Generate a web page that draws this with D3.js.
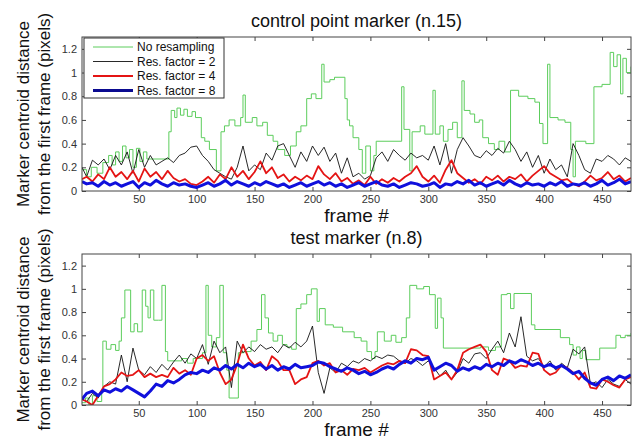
<!DOCTYPE html>
<html lang="en">
<head>
<meta charset="UTF-8">
<title>Marker centroid distance</title>
<style>
  body { margin: 0; background: #fff; }
  svg { display: block; font-family: "Liberation Sans", Arial, sans-serif; }
</style>
</head>
<body>
<div id="chart"></div>
<script src="https://d3js.org/d3.v7.min.js"></script>
<script>
// ---- data ----
var frames = [1,5,10,15,20,25,30,35,40,45, 50,55,60,65,70,75,80,85,90,95,
  100,105,110,115,120,125,130,135,140,145, 150,155,160,165,170,175,180,185,190,195,
  200,205,210,215,220,225,230,235,240,245, 250,255,260,265,270,275,280,285,290,295,
  300,305,310,315,320,325,330,335,340,345, 350,355,360,365,370,375,380,385,390,395,
  400,405,410,415,420,425,430,435,440,445, 450,455,460,465,470,475];

var xTicks = [50,100,150,200,250,300,350,400,450];
var yTicks = [0,0.2,0.4,0.6,0.8,1,1.2];
var yTickLabels = ["0","0.2","0.4","0.6","0.8","1","1.2"];
var seriesNames = ["No resampling","Res. factor = 2","Res. factor = 4","Res. factor = 8"];
var panelTitles = ["control point marker (n.15)","test marker (n.8)"];

// no resampling: [frame, value] steps
var topGreen = [[1,0.18],[5,0.12],[9,0.20],[14,0.15],[19,0.24],[24,0.30],[27,0.22],[30,0.33],[33,0.25],[36,0.38],
  [39,0.28],[42,0.35],[45,0.20],[48,0.36],[51,0.25],[54,0.33],[57,0.27],[76,0.50],[78,0.68],[81,0.62],
  [83,0.70],[86,0.64],[89,0.69],[92,0.63],[96,0.67],[99,0.62],[104,0.45],[107,0.42],[111,0.35],[117,0.17],
  [121,0.50],[124,0.55],[128,0.60],[133,0.55],[138,0.62],[140,0.81],[142,0.58],[148,0.62],[152,0.55],[157,0.58],
  [161,0.47],[166,0.42],[170,0.35],[176,0.30],[181,0.38],[186,0.50],[190,0.55],[195,0.78],[199,0.82],[203,0.78],
  [208,1.07],[210,0.92],[215,0.94],[219,0.96],[228,0.78],[230,0.60],[232,0.55],[235,0.45],[240,0.35],[243,0.15],
  [246,0.38],[250,0.17],[253,0.30],[255,0.42],[277,0.88],[279,0.52],[284,0.17],[286,0.50],[293,0.55],[297,0.48],
  [304,0.85],[306,0.48],[310,0.55],[313,0.42],[317,0.52],[321,0.58],[325,0.45],[329,0.93],[331,0.68],[336,0.65],
  [340,0.58],[344,0.60],[347,0.45],[352,0.40],[357,0.35],[361,0.42],[366,0.33],[371,0.85],[378,0.80],[386,0.78],
  [392,0.75],[396,0.57],[399,0.40],[403,1.07],[405,0.62],[412,0.60],[418,0.58],[423,0.35],[425,0.12],[427,0.42],
  [436,0.40],[443,0.88],[450,0.90],[457,1.17],[460,1.05],[463,1.15],[466,0.82],[468,1.12],[471,1.00],[475,1.05]];

var topBlack = [0.20,0.12,0.26,0.22,0.27,0.18,0.30,0.22,0.33,0.15,
  0.35,0.20,0.30,0.22,0.25,0.28,0.24,0.30,0.32,0.37,
  0.38,0.30,0.25,0.18,0.15,0.12,0.10,0.20,0.38,0.17,
  0.22,0.18,0.32,0.26,0.38,0.40,0.30,0.20,0.33,0.25,
  0.38,0.30,0.37,0.25,0.32,0.15,0.28,0.12,0.15,0.10,
  0.13,0.28,0.33,0.25,0.35,0.30,0.26,0.32,0.28,0.30,
  0.26,0.38,0.22,0.40,0.15,0.35,0.45,0.38,0.30,0.28,
  0.34,0.30,0.36,0.32,0.42,0.35,0.25,0.33,0.20,0.30,
  0.15,0.27,0.18,0.22,0.12,0.40,0.30,0.18,0.15,0.27,
  0.25,0.30,0.27,0.22,0.28,0.25];

var topRed = [0.10,0.12,0.08,0.14,0.10,0.20,0.12,0.16,0.10,0.17,
  0.08,0.19,0.12,0.16,0.10,0.17,0.11,0.08,0.10,0.06,
  0.05,0.08,0.12,0.07,0.14,0.10,0.20,0.12,0.17,0.10,
  0.16,0.25,0.15,0.20,0.11,0.14,0.08,0.12,0.09,0.13,
  0.10,0.21,0.14,0.10,0.15,0.08,0.11,0.06,0.09,0.05,
  0.12,0.06,0.10,0.07,0.11,0.08,0.12,0.15,0.21,0.12,
  0.08,0.13,0.07,0.18,0.26,0.15,0.11,0.07,0.10,0.06,
  0.12,0.09,0.13,0.08,0.12,0.10,0.14,0.08,0.13,0.17,
  0.21,0.15,0.12,0.09,0.10,0.06,0.04,0.08,0.13,0.09,
  0.11,0.16,0.10,0.13,0.08,0.11];

var topBlue = [0.08,0.06,0.07,0.04,0.08,0.05,0.07,0.04,0.06,0.08,
  0.03,0.07,0.05,0.09,0.06,0.04,0.07,0.05,0.06,0.04,
  0.03,0.05,0.07,0.04,0.06,0.09,0.05,0.08,0.06,0.04,
  0.07,0.05,0.08,0.06,0.04,0.06,0.03,0.05,0.07,0.04,
  0.06,0.08,0.05,0.07,0.04,0.06,0.03,0.05,0.07,0.04,
  0.06,0.08,0.05,0.04,0.06,0.03,0.05,0.07,0.06,0.04,
  0.05,0.07,0.03,0.06,0.05,0.08,0.06,0.09,0.05,0.07,
  0.04,0.06,0.08,0.05,0.09,0.06,0.04,0.07,0.05,0.06,
  0.04,0.07,0.05,0.08,0.04,0.06,0.05,0.07,0.04,0.06,
  0.09,0.05,0.07,0.10,0.06,0.08];

var botGreen = [[1,0.02],[4,0.06],[7,0.00],[10,0.08],[14,0.03],[18,0.12],[19,0.55],[22,0.48],[26,0.52],[30,0.47],
  [33,0.55],[35,0.75],[38,0.99],[43,0.63],[46,0.70],[49,0.63],[53,0.99],[56,0.85],[58,0.75],[60,0.99],
  [63,0.73],[67,0.73],[70,1.03],[73,0.46],[75,0.38],[87,0.40],[92,0.36],[97,0.40],[105,0.45],[108,1.03],
  [110,0.60],[113,0.50],[117,0.58],[120,1.03],[123,0.45],[126,0.30],[128,0.06],[136,0.45],[141,0.46],[147,0.55],
  [152,0.65],[156,0.95],[159,0.75],[162,0.62],[166,0.55],[170,0.60],[174,0.52],[178,0.50],[182,0.48],[186,0.83],
  [190,0.87],[195,0.95],[199,1.00],[204,0.72],[206,0.83],[211,0.69],[218,0.67],[226,0.63],[236,0.58],[242,0.55],
  [247,0.46],[251,0.40],[254,0.46],[256,0.63],[262,0.55],[268,0.60],[272,0.54],[277,0.58],[281,0.75],[284,1.03],
  [290,1.00],[296,1.02],[301,0.95],[306,0.66],[308,0.92],[311,0.75],[313,0.49],[330,0.49],[345,0.50],[352,0.47],
  [358,0.50],[363,0.95],[368,0.96],[371,0.83],[374,0.96],[389,0.69],[392,0.65],[414,0.58],[422,0.52],[425,0.43],
  [428,0.50],[431,0.40],[433,0.47],[436,0.39],[448,0.49],[462,0.60],[466,0.58],[470,0.60],[475,0.62]];

var botBlack = [0.05,0.03,0.10,0.06,0.16,0.20,0.18,0.43,0.20,0.49,
  0.30,0.26,0.33,0.28,0.35,0.30,0.37,0.43,0.36,0.44,
  0.40,0.52,0.35,0.55,0.45,0.50,0.15,0.55,0.45,0.50,
  0.46,0.52,0.48,0.50,0.45,0.52,0.49,0.54,0.50,0.55,
  0.68,0.28,0.10,0.32,0.28,0.36,0.33,0.38,0.36,0.40,
  0.38,0.42,0.40,0.43,0.42,0.38,0.36,0.40,0.38,0.34,
  0.38,0.32,0.25,0.30,0.22,0.28,0.40,0.36,0.44,0.45,
  0.40,0.48,0.55,0.45,0.62,0.50,0.76,0.42,0.38,0.40,
  0.33,0.38,0.30,0.36,0.32,0.48,0.44,0.50,0.18,0.20,
  0.15,0.22,0.18,0.16,0.22,0.18];

var botRed = [0.05,0.03,0.00,0.08,0.16,0.18,0.22,0.28,0.25,0.26,
  0.30,0.24,0.27,0.24,0.26,0.24,0.32,0.27,0.30,0.26,
  0.40,0.43,0.38,0.42,0.28,0.18,0.22,0.35,0.52,0.40,
  0.34,0.37,0.30,0.42,0.38,0.30,0.30,0.18,0.22,0.24,
  0.36,0.38,0.34,0.36,0.28,0.30,0.26,0.31,0.30,0.32,
  0.28,0.31,0.34,0.36,0.35,0.38,0.36,0.48,0.47,0.43,
  0.42,0.22,0.25,0.28,0.22,0.30,0.45,0.48,0.50,0.52,
  0.46,0.30,0.26,0.40,0.38,0.32,0.34,0.33,0.45,0.44,
  0.30,0.26,0.28,0.34,0.32,0.28,0.22,0.28,0.15,0.14,
  0.22,0.20,0.17,0.15,0.22,0.24];

var botBlue = [0.05,0.10,0.12,0.08,0.13,0.11,0.14,0.12,0.16,0.13,
  0.10,0.07,0.12,0.18,0.16,0.21,0.19,0.22,0.26,0.28,
  0.27,0.30,0.28,0.32,0.30,0.34,0.31,0.35,0.32,0.36,
  0.33,0.35,0.31,0.34,0.30,0.33,0.31,0.35,0.32,0.33,
  0.34,0.37,0.36,0.33,0.31,0.29,0.32,0.30,0.27,0.29,
  0.26,0.28,0.31,0.33,0.31,0.35,0.38,0.36,0.40,0.39,
  0.41,0.30,0.33,0.36,0.34,0.29,0.32,0.30,0.33,0.31,
  0.35,0.33,0.36,0.34,0.38,0.36,0.39,0.37,0.34,0.36,
  0.33,0.35,0.32,0.34,0.31,0.27,0.29,0.23,0.19,0.17,
  0.22,0.24,0.21,0.25,0.23,0.26];

// ---- layout ----
var width = 634, height = 441;
var left = 82, right = 631;
var colors = ["#5ccd5c", "#111111", "#e41414", "#1010dc"];
var widths = [1, 0.9, 1.8, 3];

var svg = d3.select("#chart").append("svg")
  .attr("width", width)
  .attr("height", height);
svg.append("rect").attr("width", width).attr("height", height).attr("fill", "#fff");

var x = d3.scaleLinear().domain([1, 475]).range([left, right]);

var panels = [
  {title: panelTitles[0], top: 37, bottom: 191, green: topGreen, black: topBlack, red: topRed, blue: topBlue, legend: true},
  {title: panelTitles[1], top: 254, bottom: 405, green: botGreen, black: botBlack, red: botRed, blue: botBlue, legend: false}
];

panels.forEach(function(p, i) {
  var y = d3.scaleLinear().domain([0, 1.3]).range([p.bottom, p.top]);
  var g = svg.append("g");

  g.append("clipPath").attr("id", "clip" + i)
    .append("rect")
      .attr("x", left).attr("y", p.top)
      .attr("width", right - left).attr("height", p.bottom - p.top);

  // axes, MATLAB style ticks pointing in
  g.append("g")
    .attr("transform", "translate(0," + p.bottom + ")")
    .call(d3.axisBottom(x).tickValues(xTicks).tickSizeInner(-4).tickSizeOuter(0).tickPadding(4))
    .call(styleAxis);
  g.append("g")
    .attr("transform", "translate(0," + p.top + ")")
    .call(d3.axisTop(x).tickValues(xTicks).tickSizeInner(-4).tickSizeOuter(0).tickFormat(""))
    .call(styleAxis);
  g.append("g")
    .attr("transform", "translate(" + left + ",0)")
    .call(d3.axisLeft(y).tickValues(yTicks).tickSizeInner(-4).tickSizeOuter(0).tickPadding(5)
      .tickFormat(function(d, k) { return yTickLabels[k]; }))
    .call(styleAxis);
  g.append("g")
    .attr("transform", "translate(" + right + ",0)")
    .call(d3.axisRight(y).tickValues(yTicks).tickSizeInner(-4).tickSizeOuter(0).tickFormat(""))
    .call(styleAxis);

  var lines = g.append("g").attr("clip-path", "url(#clip" + i + ")");

  var stepLine = d3.line()
    .x(function(d) { return x(d[0]); })
    .y(function(d) { return y(d[1]); })
    .curve(d3.curveStepAfter);
  var sampLine = d3.line()
    .x(function(d, k) { return x(frames[k]); })
    .y(function(d) { return y(d); });

  lines.append("path").datum(p.green)
    .attr("d", stepLine).attr("fill", "none")
    .attr("stroke", colors[0]).attr("stroke-width", widths[0]);
  [p.black, p.red, p.blue].forEach(function(s, k) {
    lines.append("path").datum(s)
      .attr("d", sampLine).attr("fill", "none")
      .attr("stroke", colors[k + 1]).attr("stroke-width", widths[k + 1])
      .attr("stroke-linejoin", "round");
  });

  // box
  g.append("rect")
    .attr("x", left).attr("y", p.top)
    .attr("width", right - left).attr("height", p.bottom - p.top)
    .attr("fill", "none").attr("stroke", "#444").attr("stroke-width", 1);

  // title and axis labels
  g.append("text")
    .attr("x", (left + right) / 2).attr("y", p.top - 10)
    .attr("text-anchor", "middle")
    .style("font-size", "18px").attr("fill", "#111")
    .text(p.title);
  g.append("text")
    .attr("x", (left + right) / 2).attr("y", p.bottom + 31)
    .attr("text-anchor", "middle")
    .style("font-size", "19px").attr("fill", "#111")
    .text("frame #");

  var cy = (p.top + p.bottom) / 2;
  g.append("text")
    .attr("transform", "translate(29," + cy + ") rotate(-90)")
    .attr("text-anchor", "middle")
    .style("font-size", "17px").attr("fill", "#111")
    .text("Marker centroid distance");
  g.append("text")
    .attr("transform", "translate(50," + cy + ") rotate(-90)")
    .attr("text-anchor", "middle")
    .style("font-size", "17px").attr("fill", "#111")
    .text("from the first frame (pixels)");

  if (p.legend) {
    var lg = g.append("g");
    lg.append("rect")
      .attr("x", 84).attr("y", 38).attr("width", 140).attr("height", 60)
      .attr("fill", "#fff").attr("stroke", "#333").attr("stroke-width", 1);
    seriesNames.forEach(function(name, k) {
      var ly = 47 + k * 14.5;
      lg.append("line")
        .attr("x1", 93).attr("x2", 133).attr("y1", ly).attr("y2", ly)
        .attr("stroke", k == 3 ? "#0a0a90" : colors[k]).attr("stroke-width", widths[k]);
      lg.append("text")
        .attr("x", 137).attr("y", ly).attr("dy", "0.35em")
        .style("font-size", "12px").attr("fill", "#111")
        .text(name);
    });
  }
});

function styleAxis(sel) {
  sel.select(".domain").remove();
  sel.selectAll(".tick line").attr("stroke", "#444");
  sel.selectAll(".tick text")
    .attr("fill", "#333")
    .style("font-size", "11px")
    .style("font-family", "\"Liberation Sans\", Arial, sans-serif");
}
</script>
</body>
</html>
